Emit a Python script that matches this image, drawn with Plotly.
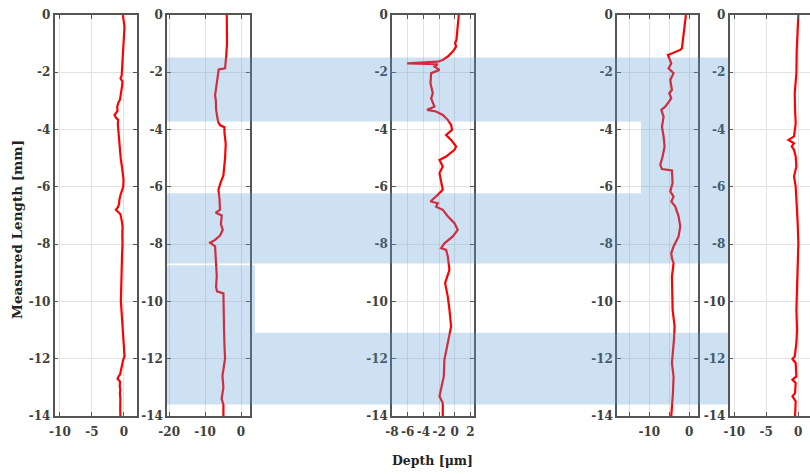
import plotly.graph_objects as go

# ---------------- data ----------------
p1_length = [0, -0.2, -0.41, -0.7, -0.99, -1.3, -1.57, -1.8, -2.0, -2.12, -2.21, -2.33, -2.5, -2.73, -2.95,
             -3.05, -3.2, -3.35, -3.49, -3.6, -3.66, -3.8, -4.01, -4.3, -4.71, -5.0, -5.29, -5.55, -5.76,
             -5.99, -6.1, -6.3, -6.45, -6.6, -6.72, -6.8, -6.88, -6.95, -7.1, -7.38, -7.7, -7.97, -8.3,
             -8.66, -9.0, -9.36, -9.7, -9.98, -10.4, -10.87, -11.3, -11.7, -11.92, -12.03, -12.2, -12.4,
             -12.55, -12.62, -12.7, -12.8, -12.95, -13.1, -13.2, -13.4, -13.6, -13.78, -14.0]
p1_depth = [-0.16, -0.05, 0.10, 0.02, -0.05, -0.12, -0.16, -0.22, -0.21, -0.35, -0.52, -0.21, -0.3, -0.42,
            -0.6, -0.85, -1.04, -1.0, -1.46, -1.2, -0.89, -0.95, -0.89, -0.8, -0.68, -0.5, -0.31, -0.12,
            -0.05, -0.10, -0.3, -0.55, -0.7, -0.75, -0.95, -1.25, -0.9, -0.55, -0.4, -0.21, -0.25, -0.21,
            -0.28, -0.31, -0.35, -0.42, -0.45, -0.47, -0.35, -0.21, -0.12, -0.02, 0.10, -0.10, -0.3, -0.5,
            -0.6, -0.83, -1.0, -0.6, -0.65, -0.55, -0.63, -0.55, -0.6, -0.57, -0.55]

p2_length = [0, -0.5, -1.0, -1.4, -1.7, -1.86, -1.9, -2.0, -2.2, -2.5, -2.8, -3.0, -3.3, -3.6, -3.75, -3.85,
             -3.92, -4.1, -4.5, -5.0, -5.3, -5.6, -5.87, -6.1, -6.4, -6.8, -6.9, -7.0, -7.3, -7.5, -7.7,
             -7.85, -7.95, -8.08, -8.5, -9.1, -9.5, -9.65, -9.72, -10.0, -11.0, -11.5, -12.0, -12.6, -13.0,
             -13.4, -13.6, -14.0]
p2_depth = [-3.97, -3.85, -3.9, -4.1, -4.3, -4.44, -6.2, -6.3, -6.57, -6.8, -7.22, -7.0, -6.94, -6.57, -6.3,
            -5.8, -4.62, -4.62, -4.25, -4.44, -4.6, -4.9, -5.73, -6.29, -6.0, -5.83, -7.03, -5.36, -5.6,
            -5.08, -5.83, -7.22, -8.6, -7.22, -7.03, -6.75, -6.94, -6.67, -4.9, -4.9, -4.72, -4.62, -4.44,
            -5.17, -4.9, -5.4, -4.9, -4.9]

p3_length = [0, -0.52, -0.87, -0.99, -1.10, -1.28, -1.45, -1.57, -1.63, -1.69, -1.72, -1.80, -1.92, -2.03,
             -2.38, -2.73, -2.91, -3.20, -3.31, -3.37, -3.49, -3.66, -3.84, -4.01, -4.19, -4.36, -4.59,
             -4.71, -4.94, -5.06, -5.29, -5.52, -5.76, -6.10, -6.28, -6.51, -6.57, -6.69, -6.80, -7.03,
             -7.27, -7.50, -7.73, -7.97, -8.14, -8.20, -8.43, -8.90, -9.36, -9.83, -10.29, -10.87, -11.45,
             -12.03, -12.62, -13.31, -13.55, -14.0]
p3_depth = [0.51, 0.38, 0.21, 0.04, 0.17, -0.25, -0.89, -1.53, -2.17, -6.07, -2.17, -2.59, -1.95, -3.01,
            -3.10, -2.80, -3.01, -2.59, -3.52, -2.38, -1.53, -0.89, -0.47, -0.34, -1.10, -0.47, 0.17, -0.04,
            -1.10, -1.95, -1.53, -1.95, -1.74, -1.53, -2.17, -3.10, -2.17, -2.38, -1.53, -0.89, -0.04, 0.38,
            -0.25, -1.32, -1.74, -1.10, -0.89, -0.68, -1.23, -0.89, -0.68, -0.47, -0.89, -1.32, -1.40,
            -1.95, -1.53, -1.53]

p4_length = [0, -0.52, -0.99, -1.16, -1.22, -1.34, -1.40, -1.51, -1.69, -1.86, -2.03, -2.27, -2.62, -2.73,
             -2.91, -3.20, -3.31, -3.55, -3.90, -4.24, -4.59, -4.94, -5.23, -5.38, -5.43, -5.87, -6.16,
             -6.34, -6.51, -6.69, -7.03, -7.38, -7.73, -8.08, -8.31, -8.49, -8.66, -9.13, -10.29, -10.87,
             -11.34, -12.15, -12.62, -13.20, -14.0]
p4_depth = [-0.83, -1.25, -1.67, -1.83, -2.25, -4.33, -5.33, -5.0, -4.5, -5.17, -3.92, -4.75, -4.33, -5.0,
            -4.5, -6.0, -7.0, -6.42, -6.83, -6.42, -6.17, -6.67, -7.25, -6.83, -4.33, -4.17, -4.75, -3.92,
            -4.5, -3.5, -2.67, -2.25, -2.67, -3.92, -4.5, -4.33, -3.92, -4.33, -4.17, -3.67, -3.83, -4.33,
            -3.92, -4.08, -4.5]

p5_length = [0, -0.52, -1.22, -2.03, -2.73, -3.31, -3.78, -4.24, -4.36, -4.48, -4.59, -4.71, -4.94, -5.29,
             -5.52, -5.64, -5.99, -6.80, -7.27, -7.97, -8.66, -9.13, -9.71, -10.29, -10.99, -11.45, -11.92,
             -12.01, -12.15, -12.62, -12.73, -12.85, -13.20, -13.31, -13.49, -14.0]
p5_depth = [0.03, -0.13, -0.23, -0.28, -0.54, -0.49, -0.39, -0.65, -1.52, -0.65, -1.01, -0.65, -0.39, -0.28,
            -0.54, -0.65, -0.39, -0.13, -0.08, 0.03, -0.08, -0.18, -0.28, -0.28, -0.18, -0.28, -0.54, -0.90,
            -0.39, -0.28, -0.90, -0.39, -0.49, -0.90, -0.39, -0.49]

x_ranges = [[-10.85, 2.05], [-20.6, 2.5], [-8.0, 2.45], [-18.1, 2.2], [-10.75, 1.85]]
x_tickvals = [[-10, -5, 0], [-20, -10, 0], [-8, -6, -4, -2, 0, 2], [-15, -10, -5, 0], [-10, -5, 0]]
x_ticktext = [["-10", "-5", "0"], ["-20", "-10", "0"], ["-8", "-6", "-4", "-2", "0", "2"],
              ["", "-10", "", "0"], ["-10", "-5", "0"]]
y_tickvals = [0, -2, -4, -6, -8, -10, -12, -14]
y_ticktext = ["0", "-2", "-4", "-6", "-8", "-10", "-12", "-14"]

# shaded bands (Measured Length, mm)
band_edges = [-1.48, -3.72, -6.22, -8.68, -8.74, -11.09, -13.6]

# ---------------- figure ----------------
W, H = 810, 474
px_domains = [(54.5, 137), (167, 250), (392, 474), (617, 698), (729.5, 810)]

fig = go.Figure()
series = [(p1_depth, p1_length), (p2_depth, p2_length), (p3_depth, p3_length),
          (p4_depth, p4_length), (p5_depth, p5_length)]

tickfont = dict(family="DejaVu Serif", size=12, color="#404040", weight="bold")
axcol = "#555555"
gridcol = "#e2e2e2"

for i, (d, L) in enumerate(series):
    n = "" if i == 0 else str(i + 1)
    fig.add_trace(go.Scatter(x=d, y=L, mode="lines", line=dict(color="#ff0000", width=2.2),
                             xaxis="x" + n, yaxis="y" + n, showlegend=False, hoverinfo="skip"))
    a, b = px_domains[i]
    fig.layout["xaxis" + n] = dict(
        domain=[a / W, b / W], range=x_ranges[i], tickvals=x_tickvals[i], ticktext=x_ticktext[i],
        showgrid=True, gridcolor=gridcol, gridwidth=1, zeroline=False, automargin=False,
        ticks="inside", ticklen=4, tickcolor=axcol, showline=True, linecolor=axcol, linewidth=1.5,
        mirror="ticks", anchor="y" + n, tickfont=tickfont, fixedrange=True, ticklabelstandoff=4)
    fig.layout["yaxis" + n] = dict(
        domain=[0, 1], range=[-14, 0], tickvals=y_tickvals, ticktext=y_ticktext,
        showgrid=True, gridcolor=gridcol, gridwidth=1, zeroline=False, automargin=False,
        ticks="inside", ticklen=4, tickcolor=axcol, showline=True, linecolor=axcol, linewidth=1.5,
        mirror=("ticks" if i < 4 else False), anchor="x" + n, tickfont=tickfont, fixedrange=True)

blue = "rgba(91,155,213,0.30)"
xl, xr = 167 / W, 728 / W
xw1 = 641 / W
xw2 = 255 / W
rects = [
    (xl, xr, band_edges[0], band_edges[1]),
    (xw1, xr, band_edges[1], band_edges[2]),
    (xl, xr, band_edges[2], band_edges[3]),
    (xl, xw2, band_edges[4], band_edges[5]),
    (xl, xr, band_edges[5], band_edges[6]),
]
for x0, x1, y0, y1 in rects:
    fig.add_shape(type="rect", xref="paper", yref="y", x0=x0, x1=x1, y0=y0, y1=y1,
                  fillcolor=blue, line=dict(width=0), layer="above")

fig.add_annotation(text="Measured Length [mm]", xref="paper", yref="paper", x=17 / W, y=0.464,
                   textangle=-90, showarrow=False,
                   font=dict(family="DejaVu Serif", size=13.5, color="#222222", weight="bold"),
                   xanchor="center", yanchor="middle")
fig.add_annotation(text="Depth [μm]", xref="paper", yref="paper", x=432 / W, y=-0.112,
                   showarrow=False,
                   font=dict(family="DejaVu Serif", size=12.5, color="#222222", weight="bold"),
                   xanchor="center", yanchor="middle")

fig.update_layout(width=W, height=H, margin=dict(l=0, r=0, t=15, b=58, autoexpand=False),
                  paper_bgcolor="white", plot_bgcolor="white")

fig.write_html("out.html", config={"displayModeBar": False},
               post_script="document.body.style.margin='0';document.body.style.overflow='hidden';")
